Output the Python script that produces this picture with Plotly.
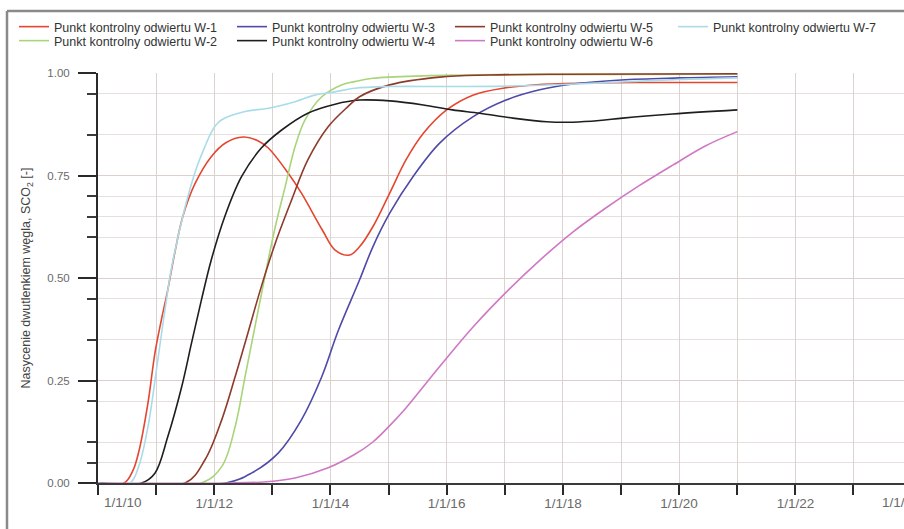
import datetime as dt
import plotly.graph_objects as go

# ---- data: time in decimal years, CO2 saturation [-] ----
W1_T = [2010.0, 2010.45, 2010.6, 2010.7, 2010.86, 2010.98, 2011.09, 2011.2, 2011.32, 2011.46, 2011.67,
        2011.95, 2012.2, 2012.5, 2012.75, 2012.93, 2013.27, 2013.5, 2013.86, 2014.08, 2014.33, 2014.5,
        2014.73, 2015.02, 2015.3, 2015.6, 2016.0, 2016.45, 2016.97, 2017.6, 2018.5, 2019.5, 2021.0]
W1_V = [0.0, 0.0, 0.03, 0.075, 0.195, 0.317, 0.397, 0.47, 0.56, 0.65, 0.73,
        0.796, 0.83, 0.844, 0.835, 0.817, 0.756, 0.707, 0.617, 0.568, 0.556, 0.576,
        0.625, 0.707, 0.788, 0.853, 0.91, 0.946, 0.963, 0.972, 0.976, 0.977, 0.977]

W2_T = [2010.0, 2011.78, 2012.13, 2012.36, 2012.53, 2012.7, 2012.87, 2013.05, 2013.22, 2013.39, 2013.56,
        2013.85, 2014.19, 2014.42, 2014.73, 2015.6, 2017.0, 2021.0]
W2_V = [0.0, 0.0, 0.04, 0.137, 0.259, 0.381, 0.503, 0.625, 0.723, 0.82, 0.885,
        0.942, 0.971, 0.979, 0.987, 0.993, 0.996, 0.997]

W3_T = [2010.0, 2012.2, 2012.64, 2013.1, 2013.5, 2013.85, 2014.13, 2014.5, 2014.73, 2015.02, 2015.42,
        2015.88, 2016.45, 2017.02, 2017.6, 2018.17, 2019.0, 2020.0, 2021.0]
W3_V = [0.0, 0.0, 0.024, 0.073, 0.154, 0.259, 0.37, 0.495, 0.576, 0.658, 0.747,
        0.829, 0.893, 0.934, 0.959, 0.973, 0.983, 0.988, 0.991]

W4_T = [2010.0, 2010.75, 2010.98, 2011.2, 2011.44, 2011.61, 2011.78, 2011.95, 2012.18, 2012.47, 2012.81,
        2013.16, 2013.61, 2014.08, 2014.5, 2015.02, 2015.6, 2016.1, 2016.57, 2017.14, 2017.72, 2018.17,
        2018.63, 2019.03, 2019.89, 2021.0]
W4_V = [0.0, 0.0, 0.024, 0.112, 0.234, 0.341, 0.446, 0.544, 0.649, 0.747, 0.817,
        0.861, 0.902, 0.924, 0.934, 0.932, 0.922, 0.91, 0.902, 0.89, 0.881, 0.88,
        0.884, 0.89, 0.9, 0.91]

W5_T = [2010.0, 2011.5, 2011.84, 2012.13, 2012.36, 2012.58, 2012.81, 2013.05, 2013.33, 2013.61, 2013.96,
        2014.3, 2014.5, 2015.02, 2015.88, 2016.74, 2018.0, 2021.0]
W5_V = [0.0, 0.0, 0.056, 0.154, 0.259, 0.366, 0.479, 0.585, 0.69, 0.788, 0.869,
        0.918, 0.942, 0.971, 0.99, 0.995, 0.997, 0.998]

W6_T = [2010.0, 2012.3, 2012.9, 2013.39, 2013.96, 2014.42, 2014.73, 2015.02, 2015.3, 2015.88, 2016.45,
        2017.02, 2017.6, 2018.17, 2018.75, 2019.3, 2019.9, 2020.45, 2021.0]
W6_V = [0.0, 0.0, 0.003, 0.012, 0.037, 0.07, 0.1, 0.14, 0.183, 0.284, 0.38,
        0.465, 0.543, 0.612, 0.672, 0.724, 0.776, 0.822, 0.857]

W7_T = [2010.0, 2010.55, 2010.7, 2010.86, 2011.03, 2011.15, 2011.27, 2011.5, 2011.7, 2011.84, 2011.95,
        2012.03, 2012.13, 2012.53, 2012.93, 2013.39, 2013.73, 2014.08, 2014.42, 2015.0, 2016.0, 2017.0,
        2018.0, 2019.0, 2020.0, 2021.0]
W7_V = [0.0, 0.0, 0.04, 0.137, 0.3, 0.42, 0.527, 0.673, 0.77, 0.82, 0.855,
        0.873, 0.886, 0.906, 0.914, 0.93, 0.946, 0.954, 0.963, 0.967, 0.967, 0.968,
        0.972, 0.978, 0.984, 0.988]

SERIES_NAMES = ["Punkt kontrolny odwiertu W-1", "Punkt kontrolny odwiertu W-2",
                "Punkt kontrolny odwiertu W-3", "Punkt kontrolny odwiertu W-4",
                "Punkt kontrolny odwiertu W-5", "Punkt kontrolny odwiertu W-6",
                "Punkt kontrolny odwiertu W-7"]
SERIES_T = [W1_T, W2_T, W3_T, W4_T, W5_T, W6_T, W7_T]
SERIES_V = [W1_V, W2_V, W3_V, W4_V, W5_V, W6_V, W7_V]
COLORS = ["#e5462f", "#a9d47a", "#4f4aa8", "#1e1e1e", "#8e3a2c", "#cf78c4", "#a9dce8"]
# legend group of each series: columns 1-3 hold pairs, W-7 sits alone in column 4
LEGENDS = ["legend", "legend2", "legend", "legend2", "legend", "legend2", "legend3"]

X_START, X_END = 2010.0, 2023.87
TICK_YEARS = list(range(2010, 2024))
LABEL_YEARS = list(range(2012, 2023, 2))
Y_MAJOR = [0.0, 0.25, 0.5, 0.75, 1.0]
Y_MINOR = [0.05, 0.1, 0.2, 0.35, 0.45, 0.6, 0.65, 0.7, 0.85, 0.95]


def to_date(y):
    year = int(y)
    a = dt.datetime(year, 1, 1)
    b = dt.datetime(year + 1, 1, 1)
    return a + (b - a) * (y - year)


def date_label(year):
    return "1/1/%02d" % (year % 100)


# page size and chart box (pixels)
W, H = 904, 529
PLOT_L, PLOT_T, PLOT_B = 98, 73, 483
PW, PH = W - PLOT_L, PLOT_B - PLOT_T
FRAME_L, FRAME_T = 7, 11

FONT = "Liberation Sans, Arial, sans-serif"
TICK_FONT = dict(family=FONT, size=13.5, color="#6a6a6a")


def px_x(px):
    return (px - PLOT_L) / PW


def px_y(py):
    return (PLOT_B - py) / PH


fig = go.Figure()

for name, t, v, c, lg in zip(SERIES_NAMES, SERIES_T, SERIES_V, COLORS, LEGENDS):
    fig.add_trace(go.Scatter(
        x=[to_date(y) for y in t], y=v, name=name, mode="lines",
        line=dict(color=c, width=1.6, shape="spline", smoothing=1.0),
        legend=lg, hoverinfo="skip",
    ))

tick_dates = [to_date(y) for y in TICK_YEARS]
tick_text = [date_label(y) if y in LABEL_YEARS else "" for y in TICK_YEARS]

fig.update_xaxes(
    type="date",
    range=[to_date(X_START), to_date(X_END)],
    tickmode="array", tickvals=tick_dates, ticktext=tick_text,
    ticks="outside", ticklen=10, tickwidth=2, tickcolor="#2a2a2a",
    showline=True, linecolor="#3a3a3a", linewidth=1.5,
    showgrid=True, gridcolor="#dcd2d0", gridwidth=1,
    tickfont=TICK_FONT, ticklabelstandoff=-3,
    zeroline=False, fixedrange=True,
)
fig.update_yaxes(
    range=[0, 1.0],
    tickmode="array", tickvals=Y_MAJOR, ticktext=["%.2f" % v for v in Y_MAJOR],
    ticks="outside", ticklen=18, tickwidth=2, tickcolor="#2a2a2a",
    minor=dict(tickmode="array", tickvals=Y_MINOR, ticks="outside", ticklen=9,
               tickwidth=1.5, tickcolor="#3a3a3a", showgrid=True,
               gridcolor="#e6dfdd", gridwidth=1),
    showline=True, linecolor="#2a2a2a", linewidth=2,
    showgrid=True, gridcolor="#ddcfcb", gridwidth=1,
    tickfont=dict(family=FONT, size=11.5, color="#6a6a6a"),
    ticklabelstandoff=6,
    title=dict(text="Nasycenie dwutlenkiem węgla, SCO<sub>2</sub> [-]",
               font=dict(family=FONT, size=12.5, color="#444444"), standoff=14),
    zeroline=False, fixedrange=True,
)

# first and last date labels sit inside the frame edges
fig.add_annotation(xref="x", x=to_date(2010), yref="paper", y=0, yshift=-10,
                   text=date_label(2010), showarrow=False, xanchor="left", yanchor="top",
                   xshift=4, font=TICK_FONT)
fig.add_annotation(xref="paper", x=px_x(880), yref="paper", y=0, yshift=-10,
                   text=date_label(2024), showarrow=False, xanchor="left", yanchor="top",
                   font=TICK_FONT)

# outer frame along the top and left page edges
frame = dict(color="#8a8a8a", width=2.5)
fig.add_shape(type="line", xref="paper", yref="paper",
              x0=px_x(FRAME_L), x1=px_x(W), y0=px_y(FRAME_T), y1=px_y(FRAME_T), line=frame)
fig.add_shape(type="line", xref="paper", yref="paper",
              x0=px_x(FRAME_L), x1=px_x(FRAME_L), y0=px_y(FRAME_T), y1=px_y(H), line=frame)

legend_common = dict(orientation="h", xref="container", yref="container",
                     xanchor="left", yanchor="top", entrywidthmode="pixels",
                     entrywidth=173, bgcolor="rgba(0,0,0,0)",
                     font=dict(family=FONT, size=12.5, color="#333333"),
                     itemclick=False, itemdoubleclick=False)

fig.update_layout(
    width=W, height=H,
    margin=dict(l=PLOT_L, r=0, t=PLOT_T, b=H - PLOT_B, autoexpand=False),
    paper_bgcolor="white", plot_bgcolor="white",
    font=dict(family=FONT, size=11, color="#333333"),
    legend=dict(x=14 / W, y=1 - 12 / H, **legend_common),
    legend2=dict(x=14 / W, y=1 - 26 / H, **legend_common),
    legend3=dict(x=673 / W, y=1 - 12 / H, **legend_common),
    showlegend=True,
)

fig.write_html("out.html")
